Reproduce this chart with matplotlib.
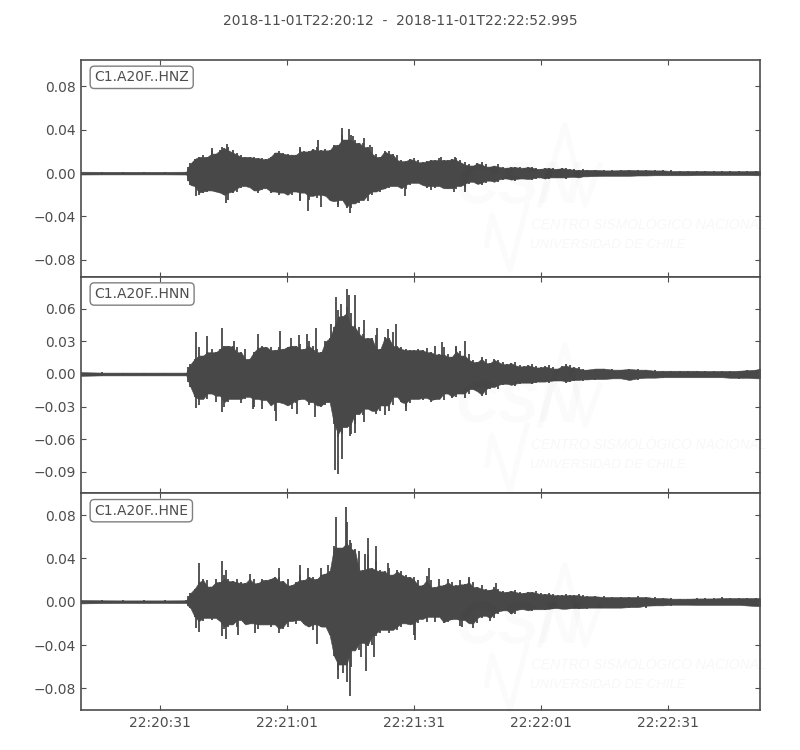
import matplotlib
matplotlib.use("Agg")
import matplotlib.pyplot as plt
from matplotlib.lines import Line2D
import numpy as np

titulo = "2018-11-01T22:20:12  -  2018-11-01T22:22:52.995"
canais = ["C1.A20F..HNZ", "C1.A20F..HNN", "C1.A20F..HNE"]
xtick_seg = [18.85, 48.9, 78.95, 109, 139.1]
xtick_labels = ["22:20:31", "22:21:01", "22:21:31", "22:22:01", "22:22:31"]
ytick_z = [0.08, 0.04, 0.0, -0.04, -0.08]
ytick_n = [0.06, 0.03, 0.0, -0.03, -0.06, -0.09]
ytick_e = [0.08, 0.04, 0.0, -0.04, -0.08]

# tempos das leituras (segundos desde 22:20:12)
tempos = [0, 5, 10, 15, 20, 25] + list(range(26, 90)) + list(range(90, 161, 2))

# envelopes, em milesimos
hnz_top = [1.3, 1.3, 1.2, 1.2, 1.2, 1.3,
           9, 13, 15, 17, 15, 21, 18, 21, 23, 24, 21, 19, 17, 15, 15, 15, 14, 14, 13, 15,
           19, 20, 19, 18, 17, 17, 22, 20, 20, 22, 24, 21, 22, 21, 26, 26, 35, 31, 35, 31,
           28, 28, 24, 24, 18, 15, 20, 20, 18, 17, 12, 11, 13, 14, 12, 10, 11, 12, 12, 14,
           12, 12, 13, 14,
           12, 8, 9, 8, 7, 6, 5.5, 5.5, 5.5, 5, 4.5, 4.5, 4.5, 4, 3, 3, 3, 3, 2.5, 2.7,
           3, 3, 2.7, 3, 2.5, 2.5, 2, 2, 2, 2, 2, 1.8, 2, 1.8, 1.8, 2]
hnz_bot = [-1.3, -1.3, -1.2, -1.2, -1.2, -1.3,
           -11, -12, -20, -18, -17, -16, -17, -18, -20, -25, -18, -17, -14, -12, -13, -16,
           -18, -16, -14, -18, -17, -20, -18, -20, -20, -17, -25, -18, -25, -21, -23, -20,
           -21, -25, -26, -29, -25, -31, -32, -28, -28, -25, -26, -20, -17, -17, -15, -14,
           -12, -12, -14, -15, -11, -9, -9, -11, -14, -12, -14, -12, -14, -15, -14, -15,
           -12, -10, -10, -9, -8, -6, -6, -5.5, -5.5, -5, -5, -4, -4, -4, -4, -3, -3, -2.7,
           -2.5, -2.5, -2.5, -2.5, -2.2, -2.2, -2, -2, -2, -2, -2, -1.8, -2, -1.8, -1.8, -1.8, -1.8, -2]
hnn_top = [1.9, 1.7, 1.3, 1.3, 1.3, 1.3,
           9, 14, 25, 17, 20, 23, 20, 23, 26, 26, 26, 25, 20, 23, 14, 20, 24, 26, 25, 25,
           22, 25, 23, 25, 26, 26, 28, 23, 30, 26, 23, 20, 30, 33, 43, 59, 53, 62, 56, 45,
           43, 37, 33, 33, 36, 23, 34, 33, 39, 26, 25, 23, 22, 22, 23, 22, 24, 20, 26, 18,
           25, 18, 16, 25,
           21, 18, 11, 14, 14, 11, 10, 8, 8, 7, 7, 6, 7, 8, 6, 4, 5, 5, 5, 4,
           4.6, 5, 4, 4, 3, 3, 3, 3, 3, 3, 2.8, 2.8, 2.8, 3, 3.5, 4]
hnn_bot = [-1.9, -1.7, -1.3, -1.3, -1.3, -1.3,
           -12, -21, -29, -23, -23, -18, -26, -20, -30, -26, -23, -23, -27, -23, -21, -30,
           -23, -32, -24, -29, -34, -26, -27, -29, -32, -27, -24, -23, -29, -26, -29, -30,
           -29, -26, -46, -58, -55, -49, -55, -46, -37, -38, -32, -34, -37, -34, -29, -34,
           -29, -21, -26, -30, -27, -23, -23, -24, -22, -26, -24, -23, -24, -18, -22, -21,
           -18, -18, -16, -19, -12, -10, -10, -9, -8, -8, -7, -6.5, -6, -7, -5.5, -5, -5.5,
           -4.6, -4.6, -4, -5.5, -5.5, -4, -3.4, -3.4, -3, -3, -3, -3, -3, -3, -3, -3.5, -4.5, -3.5, -4]
hne_top = [1.6, 1.6, 1.3, 1.2, 1.2, 1.3,
           8, 12, 18, 21, 20, 14, 21, 18, 25, 21, 19, 21, 18, 17, 21, 21, 17, 21, 20, 21,
           23, 23, 19, 21, 15, 18, 25, 20, 23, 23, 21, 25, 26, 28, 51, 50, 50, 74, 54, 49,
           47, 29, 43, 31, 38, 29, 28, 31, 25, 29, 28, 25, 23, 23, 20, 15, 24, 20, 13.5, 21,
           15, 21, 18, 15,
           20, 21, 13.5, 12, 13.5, 10, 10, 9, 9, 10, 7, 7, 6, 6, 7, 5, 5, 5, 4.3, 4.3,
           4.3, 5, 4.3, 4.3, 3.4, 3.7, 2.8, 2.8, 3.4, 3, 3, 4.3, 3.4, 3.4, 3.7, 3.4]
hne_bot = [-1.6, -1.6, -1.3, -1.2, -1.2, -1.3,
           -6, -14, -18, -18, -15, -17, -15, -18, -25, -23, -21, -23, -17, -21, -21, -20,
           -25, -21, -21, -23, -21, -25, -25, -23, -18, -21, -17, -21, -23, -26, -21, -23,
           -23, -31, -50, -63, -58, -58, -60, -45, -45, -38, -41, -40, -32, -29, -26, -29,
           -26, -26, -23, -20, -21, -31, -20, -16, -19, -14, -19, -14, -20, -19, -17, -16,
           -22, -20, -20, -13, -15, -9, -11, -8, -8, -7, -8, -6.5, -6.5, -6.5, -7, -6.5,
           -5.5, -5.5, -5.5, -5.5, -5.5, -5, -5.5, -3.7, -3.4, -3.7, -2.8, -2.8, -3, -3, -3, -3, -3, -3, -3.5, -4]

# leituras extras: inicio do evento, cauda ainda serrilhada e o ponto final
tempos_extra = [25.5, 91, 93, 95, 97, 99, 101, 103, 105, 107, 109, 111, 113, 115, 117, 119, 160.995]
hnz_top_extra = [6, 10, 7, 10, 6, 8, 5, 6, 5, 6, 4, 5, 4, 5, 3.5, 4, 2]
hnz_bot_extra = [-7, -13, -8, -11, -7, -8, -5, -7, -5, -6, -4, -5, -4, -5, -3.5, -4, -2]
hnn_top_extra = [6, 17, 13, 16, 10, 13, 9, 11, 7, 9, 6, 8, 5, 9, 6, 5, 5]
hnn_bot_extra = [-7, -22, -14, -20, -14, -14, -9, -11, -8, -9, -7, -8, -6, -8, -6, -6, -4]
hne_top_extra = [5, 16, 18, 15, 11, 12, 9, 11, 8, 9, 8, 8, 6, 7, 6, 6, 3.4]
hne_bot_extra = [-4, -17, -24, -15, -18, -11, -8, -11, -7, -9, -7, -7, -6, -7, -6, -6, -4]

# picos isolados (tempo, valor em milesimos)
picos_z_t = [34.6, 56.3, 61.8, 63.6, 64.6, 67.2, 68.5, 31.1, 33.5, 52, 85.3, 88.6,
             27.2, 34.5, 53.8, 56.9, 63.9, 63, 61, 76.8, 52, 83, 88.5, 91]
picos_z_v = [27, 31, 42, 41, 34, 32, 26, 23, 24, 24, 15, 15,
             -21, -28, -35, -31, -37, -32, -31, -21, -26, -16, -17.5, -17]
picos_n_t = [27.4, 29.9, 33.5, 36.4, 42.1, 47.1, 49.8, 51.8, 53.5, 55.7, 59.4, 60.6, 61.7, 63,
             63.6, 65, 67.1, 70.1, 72.8, 74.8, 85.7, 91, 89,
             27.3, 33.5, 40.9, 46.2, 51.2, 55.6, 60.2, 60.9, 61.9, 63, 63.9, 65, 67.2, 72, 77.2]
picos_n_v = [39, 35, 42, 30, 37, 40, 33, 36, 37, 42, 46, 71, 64, 78,
             73, 73, 50, 42, 41, 46, 29, 30, 26,
             -31, -35, -32, -43, -37, -40, -88, -92, -78, -49, -57, -54, -44, -38, -34]
picos_e_t = [28, 33.5, 34.3, 40, 47, 52, 53.8, 57, 58.7, 60.5, 62.8, 63.9, 67.3, 68, 69.9, 72.7,
             82.5, 92, 98.3,
             27.2, 28, 33.5, 34.4, 37.2, 41.3, 47, 55.9, 61, 62.2, 63.2, 63.9, 67.6, 69.4, 66.4,
             79.1, 90.4]
picos_e_v = [36, 38, 29, 26, 31, 34, 31, 31, 34, 78, 87, 57, 44, 59, 51, 36,
             31, 23, 17.5,
             -24, -28, -32, -34, -31, -29, -29, -39, -71, -66, -74, -87, -64, -51, -51,
             -35, -23]

cor = "#484848"
cor_texto = "#4d4d4d"

fig, axes = plt.subplots(3, 1, figsize=(8, 7.5), dpi=100, sharex=True)
fig.subplots_adjust(left=0.101, right=0.95, top=0.92, bottom=0.0533, hspace=0)

paineis = [
    (hnz_top, hnz_bot, hnz_top_extra, hnz_bot_extra, picos_z_t, picos_z_v, ytick_z, (-0.0956, 0.1044)),
    (hnn_top, hnn_bot, hnn_top_extra, hnn_bot_extra, picos_n_t, picos_n_v, ytick_n, (-0.1099, 0.0896)),
    (hne_top, hne_bot, hne_top_extra, hne_bot_extra, picos_e_t, picos_e_v, ytick_e, (-0.1, 0.1)),
]


# miolo cheio: o menor valor entre cada leitura e a seguinte
def miolo(v):
    return np.array([min(np.abs(v[i:i + 2])) for i in range(len(v))])


for ax, canal, painel in zip(axes, canais, paineis):
    top, bot, top_x, bot_x, pt, pv, yt, ylim = painel
    t = np.array(tempos + tempos_extra)
    ordem = np.argsort(t)
    t = t[ordem]
    top = np.array(top + top_x)[ordem] / 1000
    bot = np.array(bot + bot_x)[ordem] / 1000
    ax.fill_between(t, -miolo(bot), miolo(top), color=cor, lw=0.4)
    ax.vlines(t, bot, top, color=cor, lw=1.3)
    ax.vlines(pt, 0, np.array(pv) / 1000, color=cor, lw=1.3)
    ax.set_xlim(0, 160.995)
    ax.set_ylim(*ylim)
    ax.set_yticks(yt)
    ax.set_yticklabels([f"{v:.2f}".replace("-", "\u2212") for v in yt])
    ax.set_xticks(xtick_seg)
    ax.set_xticklabels(xtick_labels)
    ax.tick_params(direction="in", top=True, right=True, length=3.5, width=0.8, color=cor_texto,
                   labelcolor=cor_texto, labelsize=10)
    ax.tick_params(axis="y", pad=3.8)
    ax.tick_params(axis="x", pad=4.6)
    for s in ax.spines.values():
        s.set_color(cor_texto)
        s.set_linewidth(1.2)
    ax.text(0.0199, 0.92, canal, transform=ax.transAxes, fontsize=10, color=cor_texto, va="center",
            bbox=dict(boxstyle="round,pad=0.3", fc="white", ec="#7f7f7f", lw=1.0))

fig.text(0.5, 0.972, titulo, ha="center", va="center", fontsize=10, color=cor_texto)


# marca d'agua do CSN, repetida em cada painel
def fx(px):
    return px / 800


def fy(py):
    return 1 - py / 750


for desl in [0, 220, 440]:
    fig.text(fx(455), fy(203 + desl), "CSN", fontsize=43, family="Liberation Sans", weight="bold",
             style="italic", color="black", alpha=0.015, va="baseline")
    fig.text(fx(531), fy(229 + desl), "CENTRO SISMOL\u00d3GICO NACIONAL", fontsize=10, family="Liberation Sans",
             style="italic", color="black", alpha=0.03, va="baseline")
    fig.text(fx(530), fy(248 + desl), "UNIVERSIDAD DE CHILE", fontsize=9.5, family="Liberation Sans",
             style="italic", color="black", alpha=0.03, va="baseline")
    fig.add_artist(Line2D([fx(p) for p in (487, 492, 510, 527)], [fy(p + desl) for p in (245, 215, 270, 205)],
                          color="black", alpha=0.015, lw=4))
    fig.add_artist(Line2D([fx(p) for p in (540, 565, 585, 600)], [fy(p + desl) for p in (205, 125, 205, 165)],
                          color="black", alpha=0.015, lw=4))

fig.savefig("out.png", dpi=100)
